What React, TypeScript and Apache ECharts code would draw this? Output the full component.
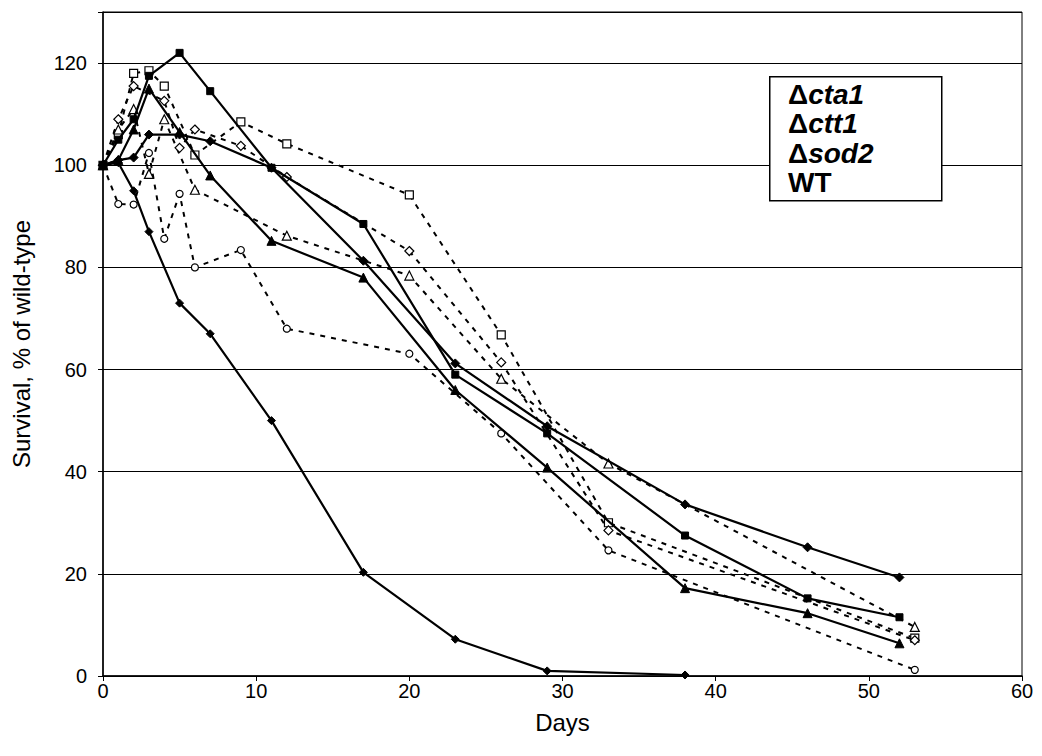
import React, { useEffect, useRef } from "react";
import * as echarts from "echarts";

// Solid series (filled markers)
const steepDays = [0, 1, 2, 3, 5, 7, 11, 17, 23, 29, 38];
const steepVals = [100, 100.5, 95, 87, 73, 67, 50, 20.3, 7.2, 1, 0.2];

const solidDays = [0, 1, 2, 3, 5, 7, 11, 17, 23, 29, 38, 46, 52];
const squareVals = [100, 105, 109, 117.5, 122, 114.5, 99.5, 88.5, 59, 47.5, 27.5, 15.2, 11.5];
const triangleVals = [100, 101, 107, 115, 106.5, 98, 85.2, 78, 56, 40.8, 17.2, 12.3, 6.4];
const diamondVals = [100, 101, 101.5, 106, 106, 104.7, 99.5, 81.3, 61.2, 48.9, 33.6, 25.2, 19.3];

// Dashed series (open markers)
const openSquareDays = [0, 1, 2, 3, 4, 6, 9, 12, 20, 26, 33, 53];
const openSquareVals = [100, 106, 118, 118.5, 115.5, 102, 108.5, 104.2, 94.2, 66.8, 30, 7.4];
const openDiamondDays = [0, 1, 2, 4, 5, 6, 9, 12, 20, 26, 33, 53];
const openDiamondVals = [100, 109, 115.5, 112.6, 103.4, 107, 103.8, 97.7, 83.2, 61.4, 28.5, 7];
const openTriangleDays = [0, 1, 2, 3, 4, 6, 12, 20, 26, 33, 53];
const openTriangleVals = [100, 107, 111, 98.3, 109, 95.2, 86.2, 78.4, 58.2, 41.6, 9.6];
const openCircleDays = [0, 1, 2, 3, 4, 5, 6, 9, 12, 20, 26, 33, 53];
const openCircleVals = [100, 92.4, 92.3, 102.4, 85.6, 94.4, 80, 83.4, 68, 63.1, 47.5, 24.6, 1.2];

const legendLabels = ["cta1", "ctt1", "sod2", "WT"];

const pairs = (d: number[], v: number[]) => d.map((x, i) => [x, v[i]]);

const FONT = "Liberation Sans, Arial, sans-serif";

export default function App() {
  const ref = useRef<HTMLDivElement>(null);
  useEffect(() => {
    if (!ref.current) return;
    const chart = echarts.init(ref.current, null, { renderer: "svg" });

    const solid = (name: string, data: number[][], symbol: string, size: number) => ({
      name,
      type: "line",
      data,
      symbol,
      symbolSize: size,
      lineStyle: { color: "#000", width: 2.2, type: "solid" },
      itemStyle: { color: "#000", borderColor: "#000", borderWidth: 1 },
      z: 3,
    });
    const dashed = (name: string, data: number[][], symbol: string, size: number) => ({
      name,
      type: "line",
      data,
      symbol,
      symbolSize: size,
      lineStyle: { color: "#000", width: 2, type: [5, 6] },
      itemStyle: { color: "#fff", borderColor: "#000", borderWidth: 1.2 },
      z: 2,
    });

    const legendTop = 76;
    const lineH = 29.5;
    const legendTexts = legendLabels.map((lab, i) => ({
      type: "text",
      left: 788,
      top: legendTop + 4 + i * lineH,
      style: {
        text: lab === "WT" ? "{w|WT}" : `{d|Δ}{i|${lab}}`,
        rich: {
          d: { fontFamily: FONT, fontSize: 28, fontWeight: "bold", fill: "#000" },
          i: { fontFamily: FONT, fontSize: 28, fontWeight: "bold", fontStyle: "italic", fill: "#000" },
          w: { fontFamily: FONT, fontSize: 28, fontWeight: "bold", fill: "#000" },
        },
      },
    }));

    chart.setOption({
      animation: false,
      backgroundColor: "#fff",
      grid: {
        left: 103,
        top: 12,
        right: 20,
        bottom: 80,
        show: true,
        borderColor: "#000",
        borderWidth: 1,
      },
      xAxis: {
        type: "value",
        min: 0,
        max: 60,
        interval: 10,
        name: "Days",
        nameLocation: "middle",
        nameGap: 34,
        nameTextStyle: { fontFamily: FONT, fontSize: 24, color: "#000" },
        axisLine: { lineStyle: { color: "#000", width: 1.5 } },
        axisTick: { show: true, length: 5, lineStyle: { color: "#000" } },
        axisLabel: { fontFamily: FONT, fontSize: 20, color: "#000", margin: 5 },
        splitLine: { show: false },
      },
      yAxis: {
        type: "value",
        min: 0,
        max: 130,
        interval: 20,
        name: "Survival, % of wild-type",
        nameLocation: "middle",
        nameGap: 70,
        nameTextStyle: { fontFamily: FONT, fontSize: 24, color: "#000" },
        axisLine: { show: true, lineStyle: { color: "#000", width: 1.5 } },
        axisTick: { show: true, length: 5, lineStyle: { color: "#000" } },
        axisLabel: {
          fontFamily: FONT,
          fontSize: 20,
          color: "#000",
          margin: 16,
          formatter: (v: number) => (v > 120 ? "" : String(v)),
        },
        splitLine: { show: true, lineStyle: { color: "#000", width: 1 } },
      },
      graphic: [
        {
          type: "rect",
          left: 769,
          top: legendTop,
          shape: { width: 172, height: 124 },
          style: { fill: "#fff", stroke: "#000", lineWidth: 1.5 },
          z: 10,
        },
        ...legendTexts.map((t) => ({ ...t, z: 11 })),
      ],
      series: [
        dashed("open squares", pairs(openSquareDays, openSquareVals), "rect", 8),
        dashed("open diamonds", pairs(openDiamondDays, openDiamondVals), "diamond", 9),
        dashed("open triangles", pairs(openTriangleDays, openTriangleVals), "triangle", 9),
        dashed("open circles", pairs(openCircleDays, openCircleVals), "circle", 7),
        solid("steep", pairs(steepDays, steepVals), "diamond", 8),
        solid("squares", pairs(solidDays, squareVals), "rect", 7),
        solid("triangles", pairs(solidDays, triangleVals), "triangle", 9),
        solid("diamonds", pairs(solidDays, diamondVals), "diamond", 9),
      ],
    });
    return () => chart.dispose();
  }, []);

  return (
    <div
      ref={ref}
      style={{ position: "absolute", left: 0, top: 0, width: 1042, height: 756, background: "#fff" }}
    />
  );
}
